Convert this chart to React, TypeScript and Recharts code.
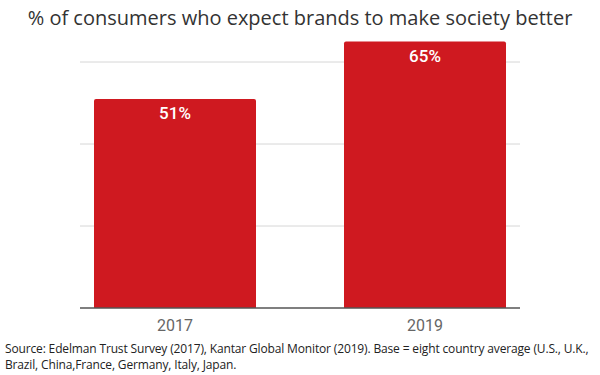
import React from 'react';
import { BarChart, Bar, XAxis, YAxis, CartesianGrid, LabelList } from 'recharts';

const categories = ['2017', '2019'];
const values = [51, 65];
const yTicks = [0, 20, 40, 60];
const title = '% of consumers who expect brands to make society better';
const sourceLines = [
  'Source: Edelman Trust Survey (2017), Kantar Global Monitor (2019). Base = eight country average (U.S., U.K.,',
  'Brazil, China,France, Germany, Italy, Japan.',
];

const data = categories.map((c, i) => ({ year: c, value: values[i] }));

export default function App() {
  return (
    <div style={{ position: 'absolute', left: 0, top: 0, width: 600, height: 375, background: '#fff', overflow: 'hidden' }}>
      <BarChart
        width={600}
        height={375}
        data={data}
        margin={{ top: 21, right: 80, left: 80, bottom: 37 }}
      >
        <CartesianGrid vertical={false} stroke="#d6d6d6" strokeWidth={1} horizontalValues={[20, 40, 60]} />
        <YAxis hide domain={[0, 70]} ticks={yTicks} />
        <XAxis
          dataKey="year"
          padding={{ left: -30, right: -30 }}
          axisLine={{ stroke: '#555', strokeWidth: 1.5 }}
          tickLine={false}
          height={30}
          tick={{ fill: '#666', fontSize: 16, fontFamily: 'Roboto' }}
          tickMargin={6}
        />
        <Bar dataKey="value" fill="#cf1920" barSize={162} radius={[2, 2, 0, 0]} isAnimationActive={false}>
          <LabelList
            dataKey="value"
            position="insideTop"
            offset={8}
            formatter={(v: number) => `${v}%`}
            style={{ fill: '#fff', fontSize: 17, fontWeight: 500, fontFamily: 'Roboto' }}
          />
        </Bar>
      </BarChart>
      <div
        style={{
          position: 'absolute',
          left: 0,
          top: 4,
          width: 600,
          textAlign: 'center',
          fontFamily: '"Open Sans"',
          fontSize: 20,
          color: '#333',
          whiteSpace: 'nowrap',
        }}
      >
        {title}
      </div>
      <div
        style={{
          position: 'absolute',
          left: 5,
          top: 341,
          fontFamily: '"Open Sans"',
          fontSize: 12,
          letterSpacing: -0.15,
          lineHeight: '16px',
          color: '#222',
          whiteSpace: 'nowrap',
        }}
      >
        {sourceLines.map((l, i) => (
          <div key={i}>{l}</div>
        ))}
      </div>
    </div>
  );
}
